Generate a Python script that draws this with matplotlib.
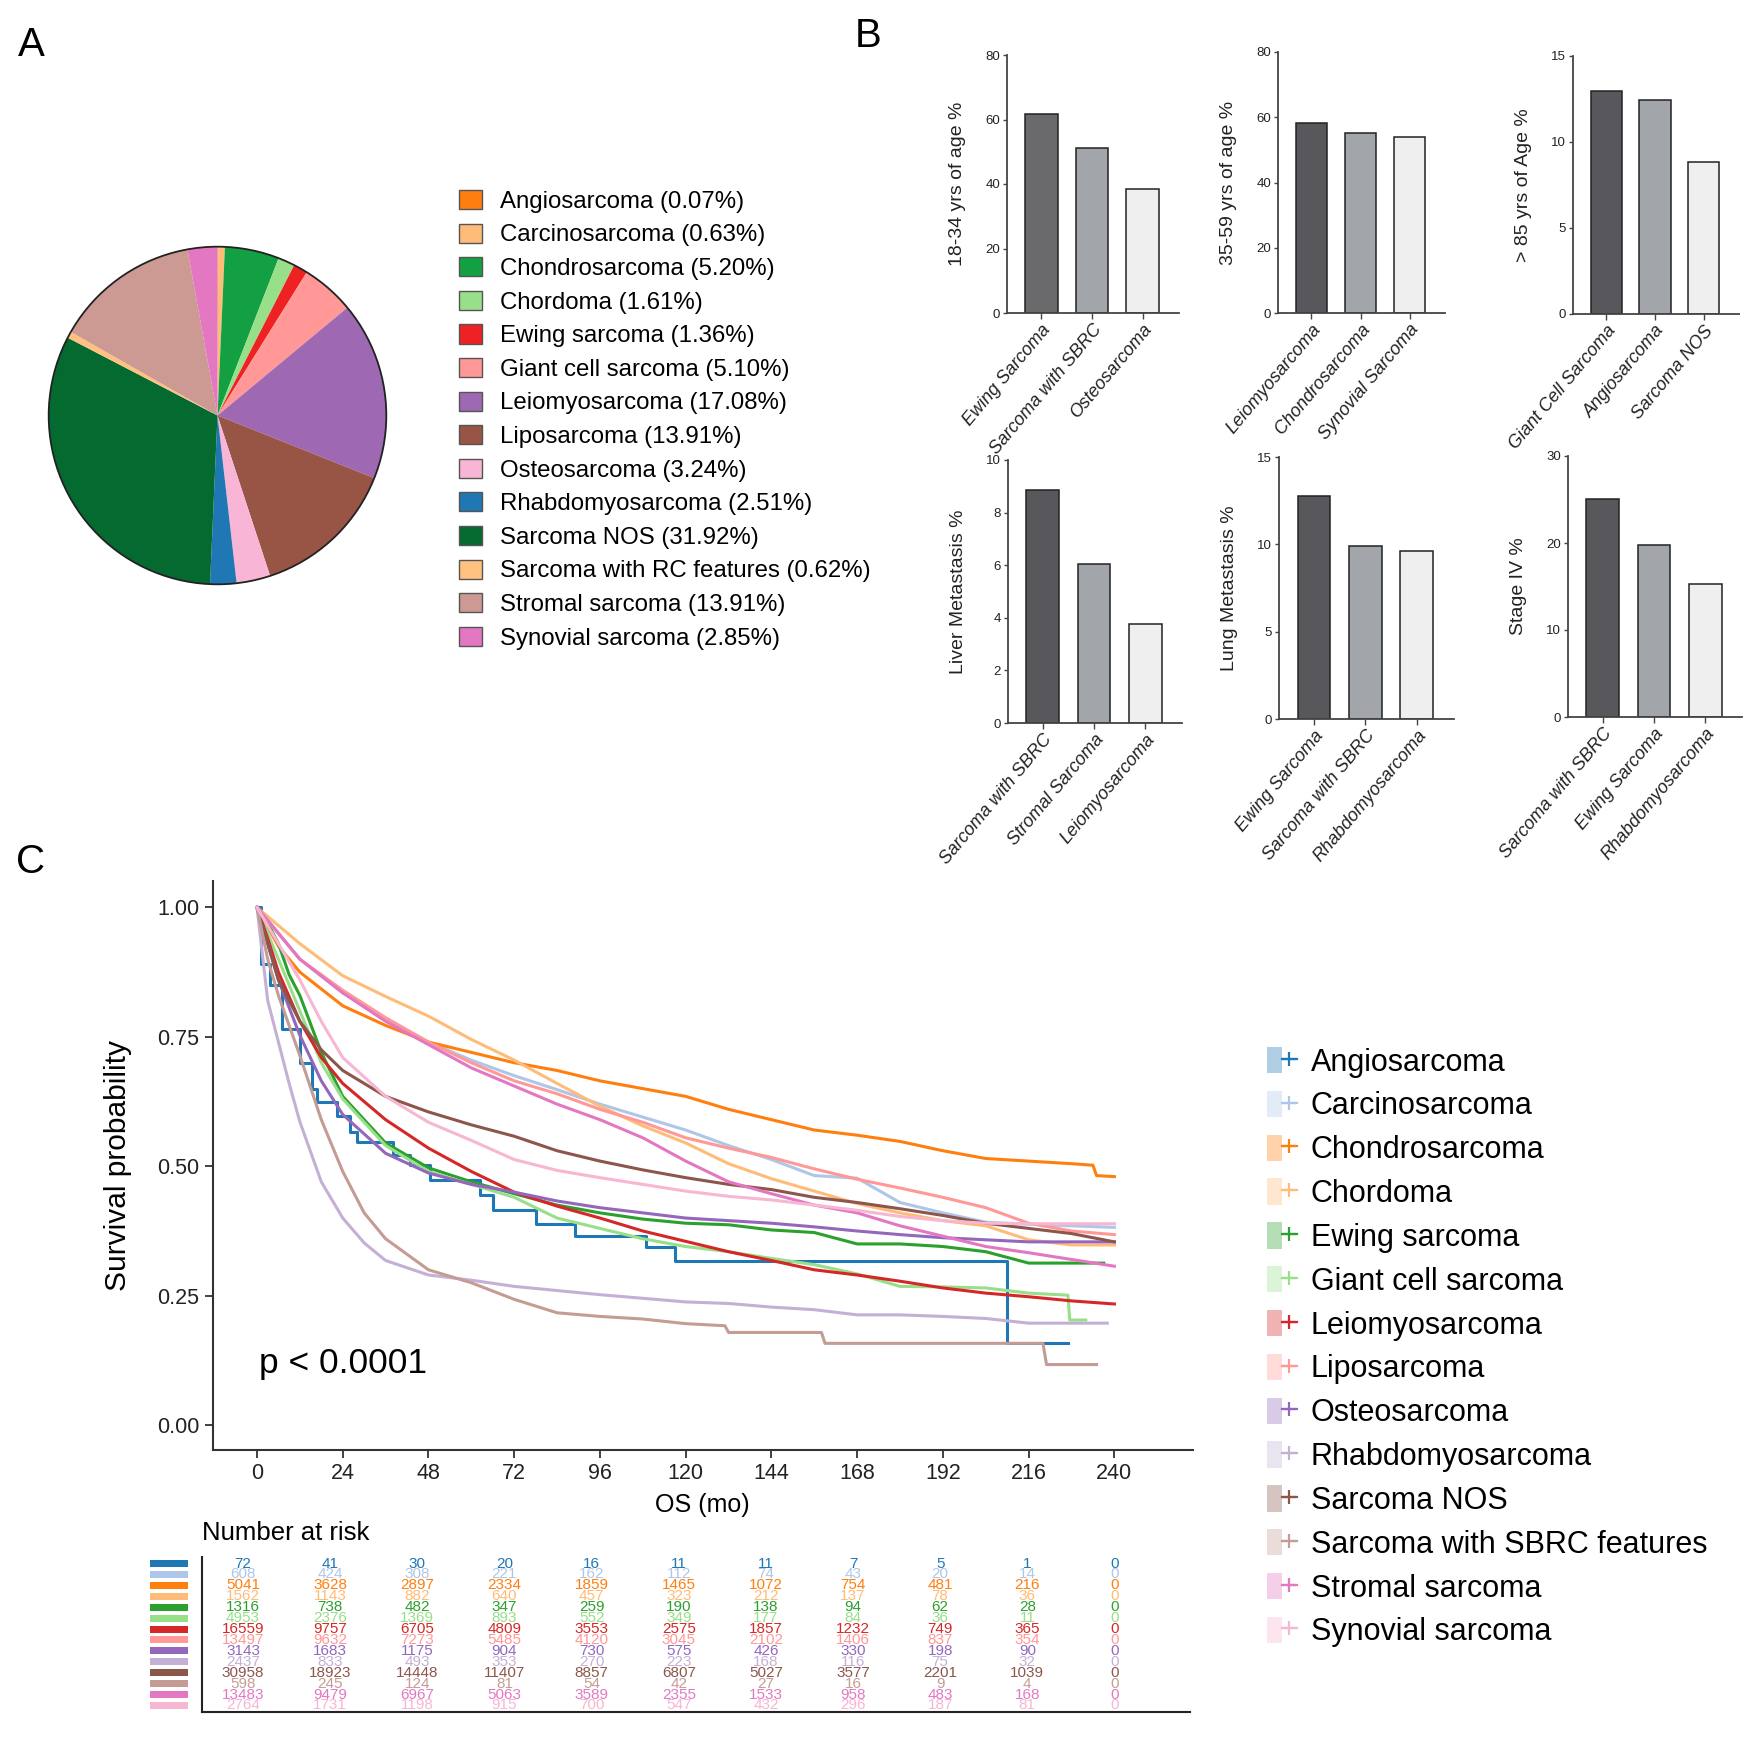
import matplotlib
matplotlib.use("Agg")
import matplotlib.pyplot as plt
from matplotlib.patches import Patch, Rectangle, Circle
from matplotlib.lines import Line2D
from matplotlib.legend_handler import HandlerTuple
from matplotlib.transforms import blended_transform_factory
from matplotlib import font_manager

plt.rcParams['font.family'] = ['Liberation Sans', 'DejaVu Sans']
_names = {f.name for f in font_manager.fontManager.ttflist}
NARROW = 'Liberation Sans Narrow' if 'Liberation Sans Narrow' in _names else 'Liberation Sans'

# ---------------- data ----------------
pie_names = ['Angiosarcoma', 'Carcinosarcoma', 'Chondrosarcoma', 'Chordoma', 'Ewing sarcoma',
             'Giant cell sarcoma', 'Leiomyosarcoma', 'Liposarcoma', 'Osteosarcoma',
             'Rhabdomyosarcoma', 'Sarcoma NOS', 'Sarcoma with RC features', 'Stromal sarcoma',
             'Synovial sarcoma']
pie_pcts = [0.07, 0.63, 5.20, 1.61, 1.36, 5.10, 17.08, 13.91, 3.24, 2.51, 31.92, 0.62, 13.91, 2.85]
pie_colors = ['#ff7f0e', '#ffbb78', '#12a043', '#98df8a', '#ee2222', '#ff9896', '#9e68b2',
              '#985445', '#f9b5d6', '#1f77b4', '#046a30', '#ffc080', '#cc9a92', '#e377c2']

b_ylabels = ['18-34 yrs of age %', '35-59 yrs of age %', '> 85 yrs of Age %',
             'Liver Metastasis %', 'Lung Metastasis %', 'Stage IV %']
b_cats = [['Ewing Sarcoma', 'Sarcoma with SBRC', 'Osteosarcoma'],
          ['Leiomyosarcoma', 'Chondrosarcoma', 'Synovial Sarcoma'],
          ['Giant Cell Sarcoma', 'Angiosarcoma', 'Sarcoma NOS'],
          ['Sarcoma with SBRC', 'Stromal Sarcoma', 'Leiomyosarcoma'],
          ['Ewing Sarcoma', 'Sarcoma with SBRC', 'Rhabdomyosarcoma'],
          ['Sarcoma with SBRC', 'Ewing Sarcoma', 'Rhabdomyosarcoma']]
b_vals = [[61.6, 51.3, 38.6],
          [58.2, 55.3, 53.8],
          [12.98, 12.44, 8.86],
          [8.86, 6.05, 3.76],
          [12.79, 9.92, 9.6],
          [25.1, 19.74, 15.3]]
b_ymax = [80, 80, 15, 10, 15, 30]
b_ystep = [20, 20, 5, 2, 5, 10]

km_names = ['Angiosarcoma', 'Carcinosarcoma', 'Chondrosarcoma', 'Chordoma', 'Ewing sarcoma',
            'Giant cell sarcoma', 'Leiomyosarcoma', 'Liposarcoma', 'Osteosarcoma',
            'Rhabdomyosarcoma', 'Sarcoma NOS', 'Sarcoma with SBRC features', 'Stromal sarcoma',
            'Synovial sarcoma']
km_colors = ['#1f77b4', '#aec7e8', '#ff7f0e', '#ffbb78', '#2ca02c', '#98df8a', '#d62728',
             '#ff9896', '#9467bd', '#c5b0d5', '#8c564b', '#c49c94', '#e377c2', '#f7b6d2']

T22 = [0, 6, 12, 24, 36, 48, 60, 72, 84, 96, 108, 120, 132, 144, 156, 168, 180, 192, 204, 216, 228, 240]
T24 = [0, 3, 6, 12, 18, 24, 36, 48, 60, 72, 84, 96, 108, 120, 132, 144, 156, 168, 180, 192, 204, 216,
       228, 240]

angio_t = [0, 1, 3.6, 6.9, 12, 15.3, 16.7, 22.3, 26, 27.9, 38.2, 42.8, 48.4, 62.5, 66.2, 78, 89, 109,
           117, 210, 227]
angio_s = [1.0, 0.89, 0.85, 0.766, 0.70, 0.65, 0.624, 0.598, 0.566, 0.547, 0.521, 0.502, 0.473, 0.444,
           0.415, 0.389, 0.365, 0.345, 0.317, 0.158, 0.158]
carc_t = T22
carc_s = [1.0, 0.95, 0.9, 0.835, 0.785, 0.74, 0.705, 0.675, 0.648, 0.62, 0.595, 0.57, 0.54, 0.513,
          0.482, 0.477, 0.43, 0.41, 0.392, 0.388, 0.385, 0.382]
chon_t = [0, 6, 12, 24, 36, 48, 60, 72, 84, 96, 108, 120, 132, 144, 156, 168, 180, 192, 204, 216, 228,
          234, 235, 240]
chon_s = [1.0, 0.925, 0.875, 0.81, 0.772, 0.74, 0.72, 0.70, 0.685, 0.665, 0.65, 0.635, 0.61, 0.59, 0.57,
          0.56, 0.548, 0.53, 0.515, 0.51, 0.505, 0.502, 0.482, 0.48]
chor_t = T22
chor_s = [1.0, 0.965, 0.93, 0.868, 0.828, 0.79, 0.745, 0.705, 0.66, 0.616, 0.578, 0.545, 0.505, 0.476,
          0.452, 0.428, 0.41, 0.395, 0.385, 0.358, 0.348, 0.348]
ewing_t = [0, 3, 6, 9, 12, 18, 24, 36, 48, 60, 72, 84, 96, 108, 120, 132, 144, 156, 168, 180, 192, 204,
           216, 228, 237]
ewing_s = [1.0, 0.97, 0.93, 0.87, 0.83, 0.72, 0.635, 0.545, 0.497, 0.47, 0.447, 0.425, 0.41, 0.398,
           0.39, 0.387, 0.377, 0.372, 0.35, 0.35, 0.345, 0.335, 0.313, 0.313, 0.313]
giant_t = [0, 3, 6, 12, 18, 24, 36, 48, 60, 72, 84, 96, 108, 120, 132, 144, 156, 168, 180, 192, 204,
           216, 227, 227.5, 232]
giant_s = [1.0, 0.95, 0.9, 0.8, 0.7, 0.63, 0.54, 0.49, 0.465, 0.44, 0.4, 0.38, 0.36, 0.345, 0.335,
           0.322, 0.31, 0.292, 0.268, 0.267, 0.265, 0.255, 0.251, 0.203, 0.203]
leio_t = T24
leio_s = [1.0, 0.94, 0.875, 0.78, 0.71, 0.66, 0.59, 0.535, 0.49, 0.45, 0.423, 0.4, 0.375, 0.355, 0.335,
          0.318, 0.3, 0.29, 0.278, 0.265, 0.255, 0.248, 0.24, 0.234]
lipo_t = T22
lipo_s = [1.0, 0.95, 0.9, 0.84, 0.787, 0.74, 0.70, 0.665, 0.64, 0.61, 0.585, 0.555, 0.535, 0.517,
          0.495, 0.475, 0.458, 0.44, 0.42, 0.39, 0.375, 0.368]
osteo_t = T24
osteo_s = [1.0, 0.93, 0.86, 0.753, 0.665, 0.60, 0.525, 0.487, 0.465, 0.45, 0.433, 0.42, 0.41, 0.4,
           0.395, 0.39, 0.383, 0.375, 0.368, 0.362, 0.358, 0.354, 0.354, 0.354]
rhab_t = [0, 3, 6, 9, 12, 18, 24, 30, 36, 48, 60, 72, 84, 96, 108, 120, 132, 144, 156, 168, 180, 192,
          204, 216, 228, 238]
rhab_s = [1.0, 0.82, 0.74, 0.66, 0.586, 0.47, 0.40, 0.352, 0.318, 0.29, 0.28, 0.268, 0.26, 0.252,
          0.245, 0.238, 0.235, 0.228, 0.223, 0.213, 0.213, 0.21, 0.206, 0.197, 0.197, 0.197]
nos_t = T24
nos_s = [1.0, 0.93, 0.86, 0.78, 0.725, 0.685, 0.635, 0.605, 0.58, 0.558, 0.53, 0.51, 0.493, 0.478,
         0.465, 0.455, 0.44, 0.43, 0.418, 0.405, 0.39, 0.38, 0.37, 0.354]
sbrc_t = [0, 3, 6, 12, 18, 24, 30, 36, 48, 60, 72, 84, 96, 108, 120, 131, 132, 158, 159, 220, 221, 235]
sbrc_s = [1.0, 0.9, 0.83, 0.714, 0.59, 0.49, 0.41, 0.36, 0.30, 0.275, 0.243, 0.217, 0.21, 0.205,
          0.196, 0.192, 0.179, 0.179, 0.158, 0.158, 0.117, 0.117]
strom_t = T22
strom_s = [1.0, 0.95, 0.9, 0.835, 0.78, 0.735, 0.69, 0.655, 0.62, 0.59, 0.555, 0.51, 0.47, 0.447,
           0.425, 0.41, 0.385, 0.365, 0.345, 0.333, 0.32, 0.307]
syn_t = T24
syn_s = [1.0, 0.965, 0.93, 0.86, 0.78, 0.71, 0.635, 0.585, 0.55, 0.513, 0.492, 0.478, 0.465, 0.452,
         0.442, 0.435, 0.425, 0.415, 0.403, 0.395, 0.39, 0.389, 0.389, 0.389]

km_times = [angio_t, carc_t, chon_t, chor_t, ewing_t, giant_t, leio_t, lipo_t, osteo_t, rhab_t,
            nos_t, sbrc_t, strom_t, syn_t]
km_surv = [angio_s, carc_s, chon_s, chor_s, ewing_s, giant_s, leio_s, lipo_s, osteo_s, rhab_s,
           nos_s, sbrc_s, strom_s, syn_s]
km_steps = [True] + [False] * 13

risk_times = [0, 24, 48, 72, 96, 120, 144, 168, 192, 216, 240]
risk_counts = [
    [72, 41, 30, 20, 16, 11, 11, 7, 5, 1, 0],
    [608, 424, 308, 221, 162, 112, 74, 43, 20, 14, 0],
    [5041, 3628, 2897, 2334, 1859, 1465, 1072, 754, 481, 216, 0],
    [1562, 1143, 882, 640, 457, 323, 212, 137, 78, 36, 0],
    [1316, 738, 482, 347, 259, 190, 138, 94, 62, 28, 0],
    [4953, 2376, 1369, 893, 552, 349, 177, 84, 36, 11, 0],
    [16559, 9757, 6705, 4809, 3553, 2575, 1857, 1232, 749, 365, 0],
    [13497, 9632, 7273, 5485, 4120, 3045, 2102, 1406, 837, 354, 0],
    [3143, 1683, 1175, 904, 730, 575, 426, 330, 198, 90, 0],
    [2437, 833, 493, 353, 270, 223, 168, 116, 75, 32, 0],
    [30958, 18923, 14448, 11407, 8857, 6807, 5027, 3577, 2201, 1039, 0],
    [598, 245, 124, 81, 54, 42, 27, 16, 9, 4, 0],
    [13483, 9479, 6967, 5063, 3589, 2355, 1533, 958, 483, 168, 0],
    [2764, 1731, 1198, 915, 700, 547, 432, 296, 187, 81, 0],
]

# ---------------- figure ----------------
W, H = 1760, 1746
fig = plt.figure(figsize=(W / 100, H / 100), dpi=100)


def box(l, t, r, b):
    return [l / W, 1 - b / H, (r - l) / W, (b - t) / H]


# Panel labels
for lab, x, y in [('A', 31, 45), ('B', 868, 36), ('C', 31, 862)]:
    fig.text(x / W, 1 - y / H, lab, fontsize=29, ha='center', va='center')

# ---- A: pie ----
axp = fig.add_axes(box(47, 245, 388, 586))
axp.pie(pie_pcts, colors=pie_colors, startangle=90, counterclock=False, radius=1,
        wedgeprops={'linewidth': 0})
axp.add_patch(Circle((0, 0), 1, fill=False, lw=1.3, ec='#222222'))
axp.set_xlim(-1.01, 1.01)
axp.set_ylim(-1.01, 1.01)
axp.set_aspect('equal')
axp.axis('off')

pie_handles = [Patch(facecolor=c, edgecolor='#555555', linewidth=1.0) for c in pie_colors]
pie_labels = [f'{n} ({p:.2f}%)' for n, p in zip(pie_names, pie_pcts)]
fig.legend(pie_handles, pie_labels, loc='upper left', bbox_to_anchor=(459 / W, 1 - 190 / H),
           frameon=False, fontsize=17.3, handlelength=0.95, handleheight=0.85, handletextpad=0.75,
           labelspacing=0.445, borderpad=0, borderaxespad=0)

# ---- B: bars ----
b_boxes = [(1007, 55, 1179, 313), (1278, 52, 1445, 313), (1573, 56, 1739, 314),
           (1008, 460, 1182, 723), (1279, 457, 1454, 719), (1568, 456, 1742, 717)]
bar_fill = ['#58585c', '#a2a5a9', '#efefef']
for k in range(6):
    ax = fig.add_axes(box(*b_boxes[k]))
    cols = list(bar_fill)
    if k == 0:
        cols[0] = '#6a6a6c'
    ax.bar(range(3), b_vals[k], width=0.64, color=cols, edgecolor='#222222', linewidth=1.1)
    ax.set_xlim(-0.68, 2.72)
    ax.set_ylim(0, b_ymax[k])
    ax.set_yticks(range(0, b_ymax[k] + 1, b_ystep[k]))
    for s in ['top', 'right']:
        ax.spines[s].set_visible(False)
    for s in ['left', 'bottom']:
        ax.spines[s].set_color('#444444')
        ax.spines[s].set_linewidth(1.3)
    ax.tick_params(axis='y', length=3, width=1, colors='#444444', labelsize=9.5, pad=2)
    ax.tick_params(axis='x', length=4, width=1, colors='#444444', pad=2)
    for t in ax.get_yticklabels():
        t.set_family(NARROW)
        t.set_color('#222222')
    ax.set_xticks(range(3))
    ax.set_xticklabels(b_cats[k], rotation=50, ha='right', rotation_mode='anchor',
                       fontstyle='italic', fontsize=13, color='#222222')
    ax.set_ylabel(b_ylabels[k], fontsize=14, labelpad=14, color='#222222')

# ---- C: KM ----
axk = fig.add_axes(box(212.5, 881, 1193, 1450))
for t, s, c, st in zip(km_times, km_surv, km_colors, km_steps):
    if st:
        axk.plot(t, s, color=c, lw=2.2, drawstyle='steps-post')
    else:
        axk.plot(t, s, color=c, lw=2.2)
axk.set_xlim(-12.45, 262)
axk.set_ylim(-0.048, 1.051)
axk.set_xticks(risk_times)
axk.set_yticks([0, 0.25, 0.5, 0.75, 1.0])
axk.set_yticklabels(['0.00', '0.25', '0.50', '0.75', '1.00'])
for s in ['top', 'right']:
    axk.spines[s].set_visible(False)
for s in ['left', 'bottom']:
    axk.spines[s].set_linewidth(1.5)
    axk.spines[s].set_color('#333333')
axk.tick_params(length=6, width=1.3, labelsize=15.5, colors='#333333', labelcolor='#222222')
axk.set_ylabel('Survival probability', fontsize=21.5, labelpad=18)
axk.set_xlabel('OS (mo)', fontsize=18, labelpad=6)
axk.text(0.5, 0.12, 'p < 0.0001', fontsize=25.5, ha='left', va='center')

km_handles = [(Patch(facecolor=c, alpha=0.35, edgecolor='none'),
               Line2D([], [], color=c, lw=1.6, marker='+', markersize=10, markeredgewidth=1.6))
              for c in km_colors]
fig.legend(km_handles, km_names, handler_map={tuple: HandlerTuple(ndivide=None, pad=0)},
           loc='upper left', bbox_to_anchor=(1267 / W, 1 - 1047 / H), frameon=False,
           fontsize=22, handlelength=0.98, handleheight=0.95, handletextpad=0.45,
           labelspacing=0.43, borderpad=0, borderaxespad=0)

# ---- risk table ----
axr = fig.add_axes(box(202, 1557, 1190, 1712))
axr.set_xlim(-11.3, 260.8)
axr.set_ylim(13.6, -0.6)
for s in ['top', 'right']:
    axr.spines[s].set_visible(False)
for s in ['left', 'bottom']:
    axr.spines[s].set_linewidth(1.5)
    axr.spines[s].set_color('#222222')
axr.set_xticks([])
axr.set_yticks([])
num_size = 12.5 if NARROW != 'Liberation Sans' else 11
trans = blended_transform_factory(axr.transAxes, axr.transData)
for i, (row, c) in enumerate(zip(risk_counts, km_colors)):
    for tt, n in zip(risk_times, row):
        axr.text(tt, i, str(n), ha='center', va='center', color=c, fontsize=num_size,
                 family=NARROW)
    axr.add_patch(Rectangle((-0.0526, i - 0.32), 0.038, 0.64, transform=trans, color=c,
                            clip_on=False, lw=0))
axr.text(0.0, 1.155, 'Number at risk', transform=axr.transAxes, fontsize=18.5, ha='left',
         va='center')

fig.savefig('out.png', dpi=100)
